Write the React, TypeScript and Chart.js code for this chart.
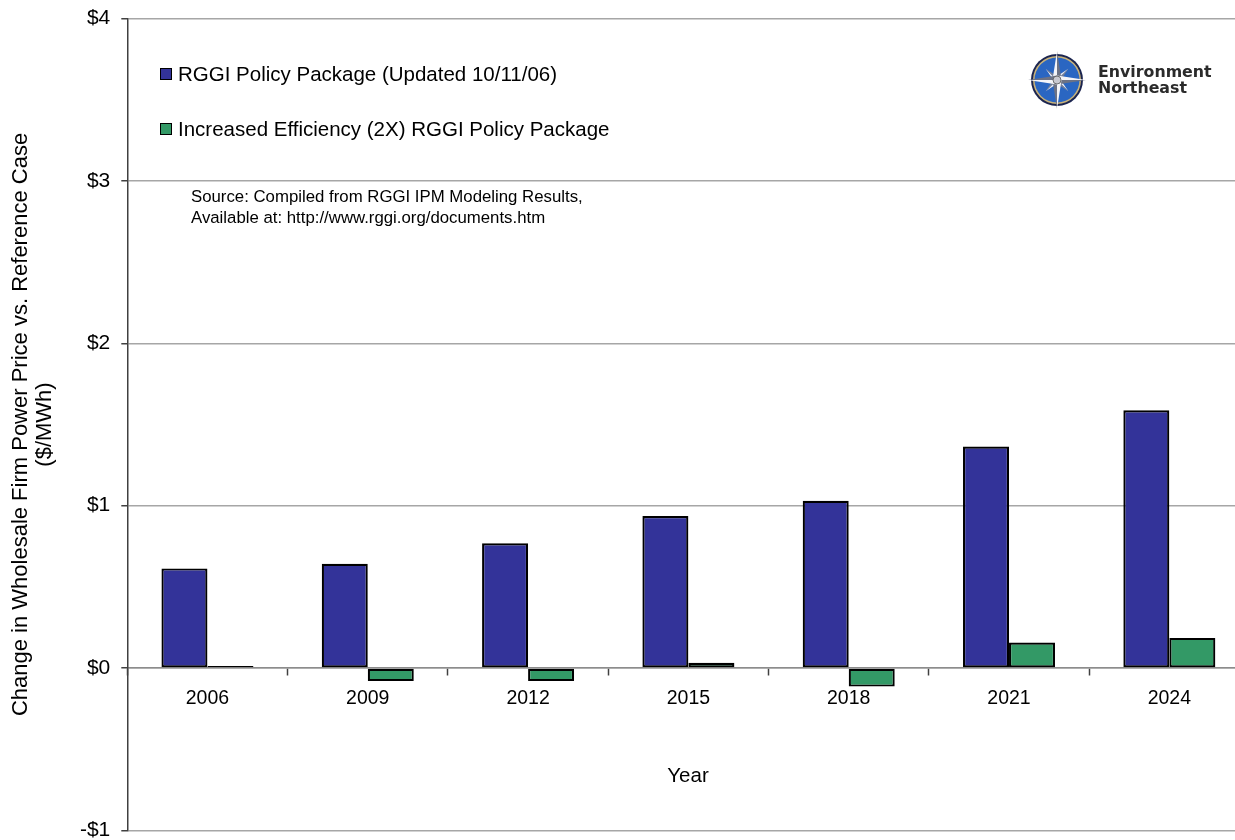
import { useEffect, useRef } from 'react';
import { Chart, registerables } from 'chart.js';

Chart.register(...registerables);

// ---- data ----
const years = ['2006', '2009', '2012', '2015', '2018', '2021', '2024'];
const rggiPolicyPackage = [0.614, 0.643, 0.769, 0.937, 1.03, 1.364, 1.587];
const increasedEfficiency2x = [0.013, -0.08, -0.08, 0.033, -0.114, 0.158, 0.186];
const yTickValues = [-1, 0, 1, 2, 3, 4];
const seriesLabels = [
  'RGGI Policy Package (Updated 10/11/06)',
  'Increased Efficiency (2X) RGGI Policy Package',
];
const seriesColors = ['#333399', '#339966'];
const yAxisTitle = ['Change in Wholesale Firm Power Price vs. Reference Case', '($/MWh)'];
const xAxisTitle = 'Year';
const sourceLines = [
  'Source: Compiled from RGGI IPM Modeling Results,',
  'Available at: http://www.rggi.org/documents.htm',
];
const logoLines = ['Environment', 'Northeast'];

const FONT = '"Liberation Sans", Arial, sans-serif';

const fmtDollar = (v: number) => (v < 0 ? '-$' + Math.abs(v) : '$' + v);

function CompassLogo() {
  const cx = 30;
  const cy = 31;
  const long = 29;
  const short = 16;
  const w = 4.5;
  const pts = (ang: number, len: number, wid: number) => {
    const a = (ang * Math.PI) / 180;
    const tx = cx + Math.sin(a) * len;
    const ty = cy - Math.cos(a) * len;
    const lx = cx + Math.sin(a - Math.PI / 2) * wid;
    const ly = cy - Math.cos(a - Math.PI / 2) * wid;
    const rx = cx + Math.sin(a + Math.PI / 2) * wid;
    const ry = cy - Math.cos(a + Math.PI / 2) * wid;
    return { left: `${cx},${cy} ${lx},${ly} ${tx},${ty}`, right: `${cx},${cy} ${rx},${ry} ${tx},${ty}` };
  };
  const longs = [0, 90, 180, 270].map((a) => pts(a, long, w));
  const shorts = [45, 135, 225, 315].map((a) => pts(a, short, 3.2));
  return (
    <svg width={60} height={62} viewBox="0 0 60 62" style={{ position: 'absolute', left: 1027, top: 49 }}>
      <circle cx={cx} cy={cy} r={26} fill="#1b2550" />
      <circle cx={cx} cy={cy} r={24} fill="#c8b27a" />
      <circle cx={cx} cy={cy} r={22.5} fill="#2a66c2" />
      {shorts.map((p, i) => (
        <g key={'s' + i}>
          <polygon points={p.left} fill="#e8e8ee" />
          <polygon points={p.right} fill="#7a7f90" />
        </g>
      ))}
      {longs.map((p, i) => (
        <g key={'l' + i}>
          <polygon points={p.left} fill="#f4f4f8" />
          <polygon points={p.right} fill="#6c7285" />
        </g>
      ))}
      <circle cx={cx} cy={cy} r={4} fill="#c8c8d0" stroke="#555" strokeWidth={0.8} />
    </svg>
  );
}

export default function App() {
  const canvasRef = useRef<HTMLCanvasElement | null>(null);

  useEffect(() => {
    const canvas = canvasRef.current;
    if (!canvas) return;
    const chart = new Chart(canvas, {
      type: 'bar',
      data: {
        labels: years,
        datasets: [
          {
            label: seriesLabels[0],
            data: rggiPolicyPackage,
            backgroundColor: seriesColors[0],
            borderColor: '#000000',
            borderWidth: 2.2,
            borderSkipped: false,
            categoryPercentage: 0.574,
            barPercentage: 1,
          },
          {
            label: seriesLabels[1],
            data: increasedEfficiency2x,
            backgroundColor: seriesColors[1],
            borderColor: '#000000',
            borderWidth: 2.2,
            borderSkipped: false,
            categoryPercentage: 0.574,
            barPercentage: 1,
          },
        ],
      },
      options: {
        responsive: false,
        animation: false,
        devicePixelRatio: 1,
        layout: { padding: { left: 0, top: 0, right: 12.5, bottom: 0 } },
        plugins: {
          legend: { display: false },
          tooltip: { enabled: false },
          title: { display: false },
        },
        scales: {
          x: {
            type: 'category',
            position: { y: 0 } as any,
            offset: true,
            grid: {
              drawOnChartArea: false,
              offset: true,
              tickLength: 7,
              tickColor: '#404040',
              tickWidth: 1.5,
            },
            border: { color: '#8c8c8c', width: 1.5 },
            ticks: {
              color: '#000000',
              font: { family: FONT, size: 19.5 },
              padding: 12,
              maxRotation: 0,
              autoSkip: false,
            },
          },
          y: {
            type: 'linear',
            position: 'left',
            min: yTickValues[0],
            max: yTickValues[yTickValues.length - 1],
            afterBuildTicks: (scale: any) => {
              scale.ticks = yTickValues.map((v) => ({ value: v }));
            },
            afterFit: (scale: any) => {
              scale.width = 127.3;
            },
            ticks: {
              color: '#000000',
              font: { family: FONT, size: 21, lineHeight: 1.0 },
              padding: 11,
              callback: (v: any) => fmtDollar(Number(v)),
            },
            grid: {
              color: '#a6a6a6',
              lineWidth: 1.5,
              tickLength: 6,
              tickColor: '#404040',
              tickWidth: 1.5,
            },
            border: { color: '#404040', width: 1.5 },
            title: {
              display: true,
              text: yAxisTitle,
              color: '#000000',
              font: { family: FONT, size: 22, lineHeight: 1.07 },
              padding: { top: 9.5, bottom: 0 },
            },
          },
        },
      },
    });
    return () => chart.destroy();
  }, []);

  const legendItem = (i: number, top: number) => (
    <div
      key={i}
      style={{
        position: 'absolute',
        left: 160,
        top,
        height: 24,
        display: 'flex',
        alignItems: 'center',
        whiteSpace: 'nowrap',
        fontFamily: FONT,
        fontSize: 20.5,
        color: '#000',
      }}
    >
      <span
        style={{
          display: 'inline-block',
          width: 10,
          height: 10,
          background: seriesColors[i],
          border: '1.5px solid #000',
          marginRight: 6,
        }}
      />
      <span>{seriesLabels[i]}</span>
    </div>
  );

  return (
    <div
      style={{
        position: 'fixed',
        left: 0,
        top: 0,
        width: 1235,
        height: 840,
        overflow: 'hidden',
        background: '#ffffff',
      }}
    >
      <canvas
        ref={canvasRef}
        width={1262}
        height={855}
        style={{ display: 'block', position: 'absolute', left: 0, top: -2.7, width: 1262, height: 855 }}
      />
      {legendItem(0, 62)}
      {legendItem(1, 117)}
      <div
        style={{
          position: 'absolute',
          left: 191,
          top: 186,
          fontFamily: FONT,
          fontSize: 16.8,
          lineHeight: '21px',
          color: '#000',
          whiteSpace: 'nowrap',
        }}
      >
        {sourceLines.map((s, i) => (
          <div key={i}>{s}</div>
        ))}
      </div>
      <div
        style={{
          position: 'absolute',
          left: 588,
          width: 200,
          top: 762,
          textAlign: 'center',
          fontFamily: FONT,
          fontSize: 20.5,
          lineHeight: '26px',
          color: '#000',
        }}
      >
        {xAxisTitle}
      </div>
      <CompassLogo />
      <div
        style={{
          position: 'absolute',
          left: 1098,
          top: 64,
          fontFamily: '"DejaVu Sans", Verdana, sans-serif',
          fontWeight: 'bold',
          fontSize: 15.8,
          lineHeight: '16px',
          color: '#2b2b2b',
          whiteSpace: 'nowrap',
        }}
      >
        {logoLines.map((s, i) => (
          <div key={i}>{s}</div>
        ))}
      </div>
    </div>
  );
}
